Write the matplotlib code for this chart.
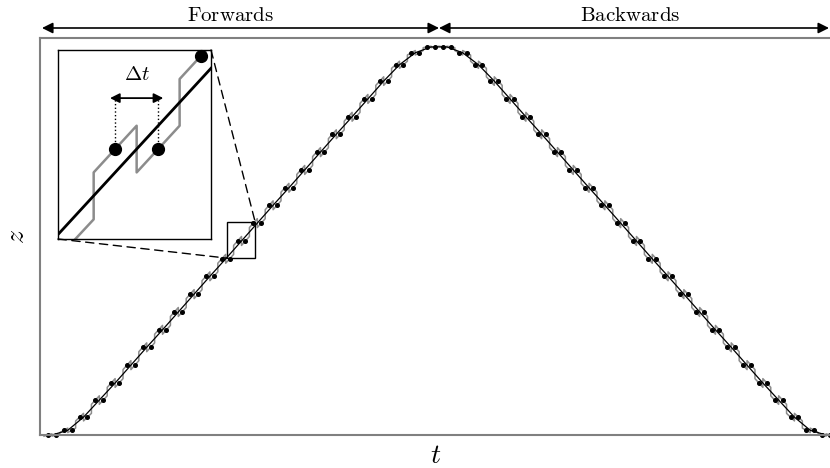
import numpy as np
import matplotlib.pyplot as plt
from matplotlib.patches import Rectangle, ConnectionPatch

plt.rcParams['mathtext.fontset'] = 'cm'

# z of each pair of samples (left half); right half mirrors it
pair_z_left = [0.0, 0.012, 0.046, 0.090, 0.134, 0.180, 0.226, 0.271, 0.317, 0.363,
               0.409, 0.454, 0.500, 0.546, 0.592, 0.637, 0.683, 0.729, 0.775, 0.820,
               0.866, 0.912, 0.954, 0.985, 1.0]
pair_z = np.array(pair_z_left + pair_z_left[::-1])
zoom_pair = 12          # pair shown in the inset
dir_labels = ['Forwards', 'Backwards']

n_pairs = len(pair_z)
pair_t = np.arange(n_pairs) * 2 + 0.5
dot_t = np.repeat(pair_t, 2) + np.tile([-0.5, 0.5], n_pairs)
dot_z = np.repeat(pair_z, 2)
slope = np.gradient(pair_z, pair_t)
dot_s = np.repeat(slope, 2)

# gray staircase: one short segment of local slope centred on every sample
gx = np.column_stack([dot_t - 0.5, dot_t + 0.5]).ravel()
gz = np.column_stack([dot_z - 0.5 * dot_s, dot_z + 0.5 * dot_s]).ravel()
# black reference path
bx = np.concatenate([[pair_t[0] - 1.26], pair_t, [pair_t[-1] + 1.26]])
bz = np.concatenate([[0.0], pair_z, [0.0]])

W, H = 830, 468
fig = plt.figure(figsize=(W / 100, H / 100), dpi=100)
ax = fig.add_axes([40 / W, 33 / H, 790 / W, 397 / H])
ax.plot(gx, gz, color='0.55', lw=1.1, clip_on=False)
ax.plot(bx, bz, color='k', lw=0.9, clip_on=False)
ax.plot(dot_t, dot_z, 'o', color='k', ms=2.6, clip_on=False)
ax.set_xlim(-1.01, 99.0)
ax.set_ylim(0, 1.023)
ax.set_xticks([])
ax.set_yticks([])
ax.spines['right'].set_visible(False)
for s in ['left', 'top', 'bottom']:
    ax.spines[s].set_color('0.5')
    ax.spines[s].set_linewidth(1.5)

# inset
zc = pair_z[zoom_pair]
t1 = dot_t[2 * zoom_pair]
t2 = dot_t[2 * zoom_pair + 1]
x0, x1 = t1 - 1.33, t1 + 2.23
y0, y1 = zc - 0.0443, zc + 0.0488

ax_in = fig.add_axes([58 / W, 1 - 239 / H, 153 / W, 189 / H])
ax_in.plot(gx, gz, color='0.55', lw=1.8)
ax_in.plot(bx, bz, color='k', lw=2.0)
inside = (dot_t >= x0) & (dot_t <= x1) & (dot_z >= y0) & (dot_z <= y1)
ax_in.plot(dot_t[inside], dot_z[inside], 'o', color='k', ms=8.5, clip_on=False)
ax_in.set_xlim(x0, x1)
ax_in.set_ylim(y0, y1)
ax_in.set_xticks([])
ax_in.set_yticks([])
for s in ax_in.spines.values():
    s.set_color('k')
    s.set_linewidth(1.0)

za = zc + 0.0251
for t in [t1, t2]:
    ax_in.plot([t, t], [zc, za], ':', color='k', lw=1.0)
ax_in.annotate('', xy=(t2 + 0.12, za), xytext=(t1 - 0.12, za),
               arrowprops=dict(arrowstyle='<|-|>', color='k', lw=1.3,
                               shrinkA=0, shrinkB=0, mutation_scale=14))
ax_in.text((t1 + t2) / 2, zc + 0.037, r'$\Delta t$', fontsize=15,
           ha='center', va='center')

ax.add_patch(Rectangle((x0, y0), x1 - x0, y1 - y0, fill=False, ec='k', lw=1.0))
for pa, pb in [((1, 1), (x1, y1)), ((0, 0), (x0, y0))]:
    con = ConnectionPatch(xyA=pa, coordsA=ax_in.transAxes, xyB=pb, coordsB=ax.transData,
                          color='k', lw=1.0, linestyle=(0, (6, 4)))
    fig.add_artist(con)

# direction arrows
ya = 1 - 28 / H
for (xa, xb), lab, xt in zip([(42, 439), (439, 829)], dir_labels, [230, 630]):
    ax.annotate('', xy=(xb / W, ya), xytext=(xa / W, ya), xycoords='figure fraction',
                textcoords='figure fraction',
                arrowprops=dict(arrowstyle='<|-|>', color='k', lw=1.2,
                                shrinkA=0, shrinkB=0, mutation_scale=16))
    fig.text(xt / W, 1 - 15 / H, r'$\mathrm{%s}$' % lab, fontsize=15,
             ha='center', va='center')

fig.text(436 / W, 1 - 455 / H, r'$t$', fontsize=20, ha='center', va='center')
fig.text(16 / W, 1 - 237 / H, r'$z$', fontsize=20, ha='center', va='center', rotation=90)

fig.savefig('out.png', dpi=100)
